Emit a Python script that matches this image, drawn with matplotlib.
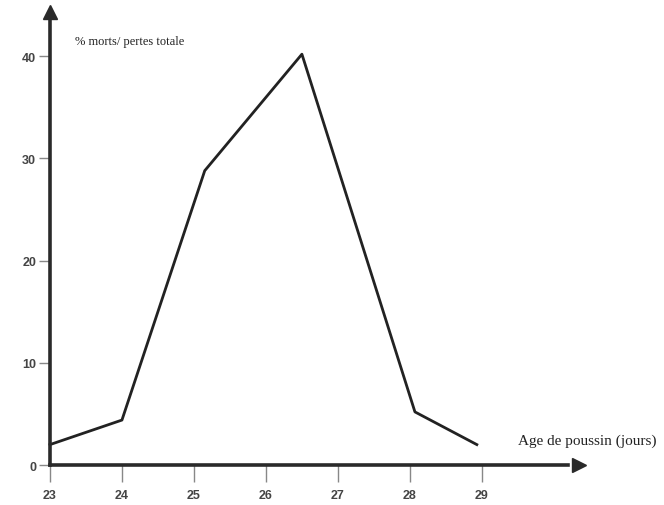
import matplotlib.pyplot as plt

age = [23.0, 24.0, 25.15, 26.5, 28.07, 28.93]
morts = [2.0, 4.4, 28.8, 40.2, 5.2, 2.0]
xticks = [23, 24, 25, 26, 27, 28, 29]
yticks = [0, 10, 20, 30, 40]

fig = plt.figure(figsize=(6.64, 5.06), dpi=100)
ax = fig.add_axes([0, 0, 1, 1])
ax.set_xlim(22.306, 31.53)
ax.set_ylim(-3.91, 45.6)

# axes en croix avec fleches
for s in ['top', 'right']:
    ax.spines[s].set_visible(False)
ax.spines['left'].set_position(('data', 23))
ax.spines['bottom'].set_position(('data', 0))
ax.spines['left'].set_bounds(0, 43.5)
ax.spines['bottom'].set_bounds(23, 30.2)
ax.spines['left'].set_linewidth(2.6)
ax.spines['bottom'].set_linewidth(2.6)
ax.spines['left'].set_color('#2a2a2a')
ax.spines['bottom'].set_color('#2a2a2a')
ax.plot(23, 44.3, marker='^', markersize=10, color='#2a2a2a', clip_on=False)
ax.plot(30.35, 0, marker='>', markersize=10, color='#2a2a2a', clip_on=False)

ax.set_xticks(xticks)
ax.set_yticks(yticks)
ax.set_xticklabels([str(t) for t in xticks], fontsize=9, color='#444444',
                   family='Liberation Sans', fontweight='semibold')
ax.set_yticklabels([str(t) for t in yticks], fontsize=9, color='#444444',
                   family='Liberation Sans', fontweight='semibold')
ax.tick_params(axis='x', direction='out', length=12, width=1, color='#888888', pad=5)
ax.tick_params(axis='y', direction='out', length=8, width=1, color='#888888', pad=2)

ax.plot(age, morts, color='#222222', linewidth=2.0)

ax.text(23.35, 41.5, '% morts/ pertes totale', fontsize=9, family='Liberation Serif',
        color='#222222', va='center')
ax.text(29.5, 2.4, 'Age de poussin (jours)', fontsize=11, family='Liberation Serif',
        color='#222222', va='center')

fig.savefig('out.png', dpi=100)
